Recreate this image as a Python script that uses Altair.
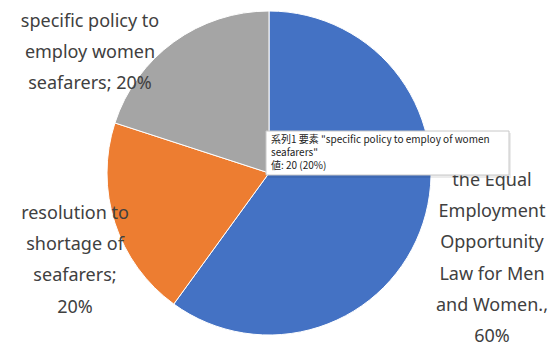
import altair as alt
import pandas as pd

categories = [
    "the Equal Employment Opportunity Law for Men and Women.",
    "resolution to shortage of seafarers",
    "specific policy to employ women seafarers",
]
values = [60, 20, 20]
colors = ["#4472C4", "#ED7D31", "#A5A5A5"]
order = [0, 1, 2]

label_lines = [
    ["the Equal", "Employment", "Opportunity", "Law for Men", "and Women.,", "60%"],
    ["resolution to", "shortage of", "seafarers;", "20%"],
    ["specific policy to", "employ women", "seafarers; 20%"],
]

tooltip_lines = [
    '系列1 要素 "specific policy to employ of women',
    'seafarers"',
    "値: 20 (20%)",
]

df = pd.DataFrame({"category": categories, "value": values, "order": order})

CX, CY, R = 269, 173, 162

pie = alt.Chart(df).mark_arc(stroke="white", strokeWidth=1).encode(
    theta=alt.Theta("value:Q", stack=True),
    order=alt.Order("order:Q"),
    color=alt.Color("category:N", scale=alt.Scale(domain=categories, range=colors), legend=None),
    x=alt.value(CX),
    y=alt.value(CY),
    radius=alt.value(R),
)

def label_layer(lines, cx, y0):
    d = pd.DataFrame({"t": ["|".join(lines)]})
    return alt.Chart(d).mark_text(
        font="Noto Sans", fontSize=18, color="#404040", align="center",
        baseline="top", lineHeight=31.2, lineBreak="|",
    ).encode(text="t:N", x=alt.value(cx), y=alt.value(y0))

lbl_right = label_layer(label_lines[0], 492, 172)
lbl_left = label_layer(label_lines[1], 75, 205)
lbl_top = label_layer(label_lines[2], 90, 13)

box_df = pd.DataFrame({"a": [0]})
shadow = alt.Chart(box_df).mark_rect(fill="#000000", opacity=0.08).encode(
    x=alt.value(268), x2=alt.value(511), y=alt.value(133), y2=alt.value(178)
)
box = alt.Chart(box_df).mark_rect(fill="#ffffff", stroke="#c8c8c8", strokeWidth=1).encode(
    x=alt.value(266), x2=alt.value(509), y=alt.value(131), y2=alt.value(175)
)
tip = alt.Chart(pd.DataFrame({"t": ["|".join(tooltip_lines)]})).mark_text(
    font="Noto Sans CJK JP", fontSize=10, color="#222222", align="left",
    baseline="top", lineHeight=13, lineBreak="|",
).encode(text="t:N", x=alt.value(271), y=alt.value(135))

chart = alt.layer(pie, lbl_right, lbl_left, lbl_top, shadow, box, tip).properties(
    width=556, height=349, padding=0, autosize=alt.AutoSizeParams(type="none")
).configure_view(stroke=None)

chart.save("out.html", embed_options={"renderer": "svg", "actions": False})
